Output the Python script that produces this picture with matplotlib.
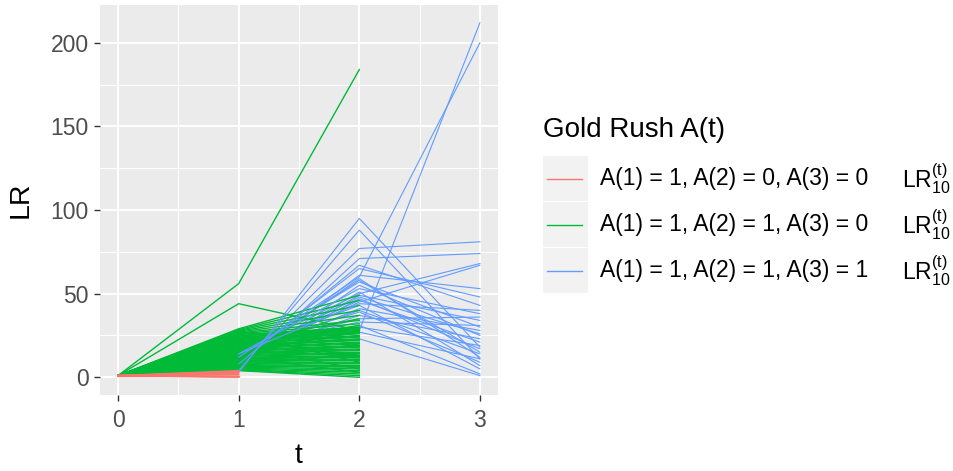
import matplotlib
matplotlib.use("Agg")
import matplotlib.pyplot as plt
from matplotlib.patches import Rectangle
from matplotlib.lines import Line2D

plt.rcParams['font.family'] = ['Liberation Sans', 'DejaVu Sans']
plt.rcParams['mathtext.fontset'] = 'custom'
plt.rcParams['mathtext.rm'] = 'Liberation Sans'
plt.rcParams['mathtext.it'] = 'Liberation Sans:italic'

# LR trajectories, one list per subject
red_t = [0, 1]
red_lr = [[1, 0], [1, 0.3], [1, 0.6], [1, 1], [1, 1.5], [1, 2], [1, 2.5], [1, 3], [1, 3.5], [1, 4]]

green_t = [0, 1, 2]
green_lr = [
    [1, 56, 184], [1, 44, 28], [1, 29, 49], [1, 28.5, 46], [1, 28, 43],
    [1, 27.5, 40], [1, 27, 37], [1, 26.5, 34], [1, 26, 32], [1, 25.5, 30],
    [1, 25, 29.5], [1, 24.5, 29], [1, 24, 28.5], [1, 23.5, 28], [1, 23, 27.5],
    [1, 22.5, 27], [1, 22, 26.5], [1, 21.5, 26], [1, 21, 25], [1, 20.5, 24.5],
    [1, 20, 24], [1, 19.5, 23], [1, 19, 22.5], [1, 18.5, 22], [1, 18, 21],
    [1, 17.5, 20.5], [1, 17, 20], [1, 16.5, 19], [1, 16, 18.5], [1, 15.5, 18],
    [1, 15, 17], [1, 14.5, 16.5], [1, 14, 16], [1, 13.5, 15], [1, 13, 14.5],
    [1, 12.5, 14], [1, 12, 13], [1, 11.5, 12.5], [1, 11, 12], [1, 10.5, 11],
    [1, 10, 10.5], [1, 9.5, 10], [1, 9, 9], [1, 8.5, 8.5], [1, 8, 8],
    [1, 7.5, 7], [1, 7, 6.5], [1, 6.5, 6], [1, 6, 5], [1, 5.5, 4],
    [1, 5, 3], [1, 4.5, 2], [1, 4.2, 1], [1, 4, 0],
    [1, 27, 22], [1, 24, 12], [1, 21, 35], [1, 18, 5], [1, 15, 27],
    [1, 12, 3], [1, 9, 20], [1, 7, 14], [1, 26, 9], [1, 20, 31],
]

blue_t = [1, 2, 3]
blue_lr = [
    [3, 95, 18], [4, 88, 11], [6, 77, 81], [5, 71, 74], [8, 67, 43],
    [10, 65, 48], [7, 61, 53], [12, 60, 200], [9, 59, 12], [11, 58, 15],
    [13, 57, 30], [6, 55, 25], [14, 53, 38], [8, 51, 7], [15, 50, 68],
    [10, 49, 34], [12, 48, 26], [9, 47, 17], [13, 46, 21], [11, 45, 67],
    [14, 44, 40], [16, 43, 5], [12, 41, 28], [15, 40, 14], [17, 39, 9],
    [13, 37, 23], [16, 35, 36], [18, 33, 31], [17, 31, 2], [19, 30, 19],
    [14, 28, 212], [20, 27, 11], [18, 23, 1],
]
# a few blue lines were drawn after the green ones
blue_on_top = [0, 1, 4, 7, 12, 20]

labels = ["A(1) = 1, A(2) = 0, A(3) = 0",
          "A(1) = 1, A(2) = 1, A(3) = 0",
          "A(1) = 1, A(2) = 1, A(3) = 1"]
colors = ["#F8766D", "#00BA38", "#619CFF"]

W, H = 954, 471
fig = plt.figure(figsize=(W / 100, H / 100), dpi=100)
ax = fig.add_axes([100 / W, 1 - 395 / H, 398 / W, 390 / H])
ax.set_facecolor("#EBEBEB")
for s in ax.spines.values():
    s.set_visible(False)

for i, b in enumerate(blue_lr):
    z = 3.5 if i in blue_on_top else 2
    ax.plot(blue_t, b, color=colors[2], lw=0.8, zorder=z)
for g in green_lr:
    ax.plot(green_t, g, color=colors[1], lw=1.0, zorder=3)
for r in red_lr:
    ax.plot(red_t, r, color=colors[0], lw=1.0, zorder=4)

ax.set_xlim(-0.15, 3.15)
ax.set_ylim(-10.6, 222.6)
ax.set_xticks([0, 1, 2, 3])
ax.set_yticks([0, 50, 100, 150, 200])
ax.set_xticks([0.5, 1.5, 2.5], minor=True)
ax.set_yticks([25, 75, 125, 175], minor=True)
ax.grid(which="major", color="white", lw=1.4, zorder=0)
ax.grid(which="minor", color="white", lw=0.7, zorder=0)
ax.set_axisbelow(True)
ax.tick_params(which="major", length=4, width=1, color="#333333",
               labelcolor="#4D4D4D", labelsize=16.5)
ax.tick_params(axis="x", pad=6)
ax.tick_params(axis="y", pad=4)
ax.tick_params(which="minor", length=0)
ax.set_xlabel("t", fontsize=20.5, labelpad=8)
ax.set_ylabel("LR", fontsize=20.5, labelpad=12)

def fx(px):
    return px / W

def fy(py):
    return 1 - py / H

# legend drawn by hand, ggplot style
fig.text(fx(543), fy(130), "Gold Rush A(t)", fontsize=20, va="center", ha="left")
key_tops = [156, 202, 248]
for k in range(3):
    top = key_tops[k]
    fig.add_artist(Rectangle((fx(543), fy(top + 45)), 45 / W, 45 / H,
                             transform=fig.transFigure, facecolor="#F2F2F2",
                             edgecolor="none"))
    yc = top + 22.5
    fig.add_artist(Line2D([fx(547), fx(582)], [fy(yc), fy(yc)],
                          transform=fig.transFigure, color=colors[k], lw=1))
    fig.text(fx(600), fy(yc), labels[k], fontsize=16.5, va="center", ha="left")
    fig.text(fx(902), fy(yc), r"$\mathrm{LR}_{10}^{\mathrm{(t)}}$", fontsize=16.5,
             va="center", ha="left")

fig.savefig("out.png", dpi=100)
